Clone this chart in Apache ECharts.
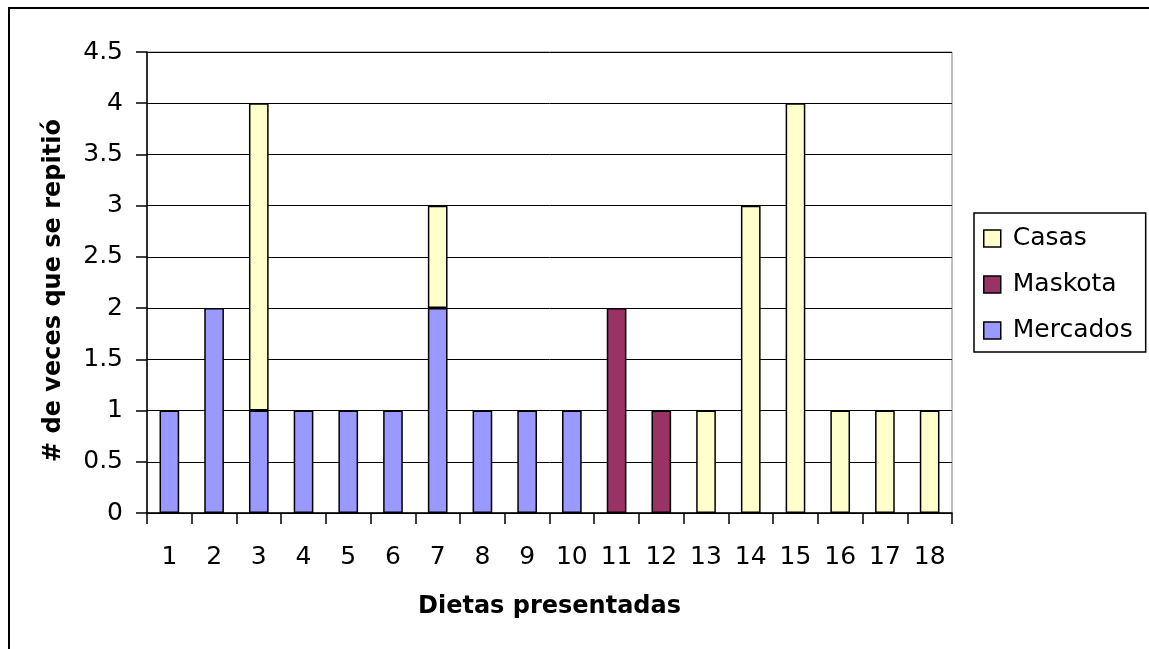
<!DOCTYPE html>
<html>
<head>
<meta charset="utf-8">
<script src="https://cdn.jsdelivr.net/npm/echarts@6/dist/echarts.min.js"></script>
<style>
html,body{margin:0;padding:0;background:#fff;}
#frame{position:absolute;left:8px;top:7px;width:1160px;height:700px;border-left:2px solid #000;border-top:2px solid #000;box-sizing:border-box;}
#chart{position:absolute;left:0;top:0;width:1149px;height:649px;}
</style>
</head>
<body>
<div id="frame"></div>
<div id="chart"></div>
<script>
const categories = ['1','2','3','4','5','6','7','8','9','10','11','12','13','14','15','16','17','18'];
const mercados = [1,2,1,1,1,1,2,1,1,1,null,null,null,null,null,null,null,null];
const maskota  = [null,null,null,null,null,null,null,null,null,null,2,1,null,null,null,null,null,null];
const casas    = [null,null,3,null,null,null,1,null,null,null,null,null,1,3,4,1,1,1];
const yTicks = [0,0.5,1,1.5,2,2.5,3,3.5,4,4.5];

const chart = echarts.init(document.getElementById('chart'), null, {renderer:'canvas'});
const font = 'DejaVu Sans, Liberation Sans, Arial, sans-serif';
const barCommon = {type:'bar', stack:'total', barWidth:'44%'};
chart.setOption({
  animation:false,
  backgroundColor:'transparent',
  textStyle:{fontFamily:font, color:'#000'},
  grid:{left:147, right:197, top:52, bottom:136, show:true, borderColor:'#808080', borderWidth:1},
  legend:{
    orient:'vertical', left:974, top:213,
    data:['Casas','Maskota','Mercados'],
    borderColor:'#000', borderWidth:1.5, padding:[13,13,9,9],
    itemWidth:17, itemHeight:17, itemGap:21,
    textStyle:{fontSize:25, fontFamily:font, color:'#000', padding:[0,0,0,7]},
    icon:'rect',
    itemStyle:{borderColor:'#000', borderWidth:1.5}
  },
  xAxis:{
    type:'category', data:categories, boundaryGap:true,
    name:'Dietas presentadas', nameLocation:'middle', nameGap:82,
    nameTextStyle:{fontSize:24, fontWeight:'bold', fontFamily:font, color:'#000'},
    axisLine:{lineStyle:{color:'#000', width:1.5}},
    axisTick:{show:true, length:11, lineStyle:{color:'#000', width:1.5}},
    axisLabel:{fontSize:25, color:'#000', margin:32, fontFamily:font}
  },
  yAxis:{
    type:'value', min:0, max:4.5, interval:0.5,
    name:'# de veces que se repitió', nameLocation:'middle', nameGap:81,
    nameTextStyle:{fontSize:24, fontWeight:'bold', fontFamily:font, color:'#000', padding:[0,16,0,0]},
    axisLine:{show:true, lineStyle:{color:'#000', width:1.5}},
    axisTick:{show:true, length:11, lineStyle:{color:'#000', width:1.5}},
    axisLabel:{fontSize:25, color:'#000', margin:24, fontFamily:font,
      formatter:function(v){ return yTicks.indexOf(v) >= 0 ? String(v) : ''; }},
    splitLine:{show:true, lineStyle:{color:'#000', width:1}}
  },
  series:[
    Object.assign({}, barCommon, {name:'Mercados', data:mercados, itemStyle:{color:'#9999FF', borderColor:'#000', borderWidth:1.5}}),
    Object.assign({}, barCommon, {name:'Maskota', data:maskota, itemStyle:{color:'#993366', borderColor:'#000', borderWidth:1.5}}),
    Object.assign({}, barCommon, {name:'Casas', data:casas, itemStyle:{color:'#FFFFCC', borderColor:'#000', borderWidth:1.5}})
  ]
});
</script>
</body>
</html>
